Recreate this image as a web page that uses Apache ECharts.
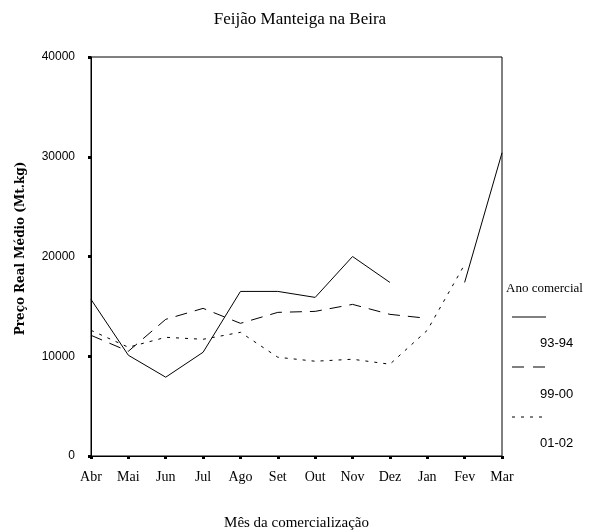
<!DOCTYPE html>
<html>
<head>
<meta charset="utf-8">
<script src="https://cdn.jsdelivr.net/npm/echarts@6/dist/echarts.min.js"></script>
<style>
html,body{margin:0;padding:0;background:#fff;}
#c{width:597px;height:531px;}
</style>
</head>
<body>
<div id="c"></div>
<script>
var months = ['Abr','Mai','Jun','Jul','Ago','Set','Out','Nov','Dez','Jan','Fev','Mar'];
var yTicks = [0, 10000, 20000, 30000, 40000];
var s9394 = [15700, 10100, 7900, 10400, 16500, 16500, 15900, 20000, 17400, null, 17400, 30400];
var s9900 = [12100, 10500, 13700, 14800, 13300, 14400, 14500, 15200, 14200, 13800, null, null];
var s0102 = [12600, 10900, 11900, 11700, 12400, 9900, 9500, 9700, 9200, 12600, 19200, null];
var seriesNames = ['93-94', '99-00', '01-02'];

var serif = '"Liberation Serif","DejaVu Serif",serif';
var wideSerif = '"DejaVu Serif","Liberation Serif",serif';
var sans = '"Liberation Sans","Arial",sans-serif';

var chart = echarts.init(document.getElementById('c'), null, {renderer: 'canvas'});

function mkSeries(name, data, type) {
  return {
    name: name, type: 'line', data: data, symbol: 'none', connectNulls: false,
    lineStyle: {color: '#000', width: 1, type: type}, animation: false
  };
}

var lx = 512, rx = 546;
chart.setOption({
  animation: false,
  title: {
    text: 'Feijão Manteiga na Beira', left: 295, textAlign: 'center', top: 6,
    textStyle: {fontFamily: serif, fontSize: 17, fontWeight: 'normal', color: '#000'}
  },
  grid: {left: 91, right: 95, top: 57, bottom: 75, show: true, borderColor: '#000', borderWidth: 1,
    containLabel: false, outerBoundsMode: 'none'},
  xAxis: {
    type: 'category', data: months, boundaryGap: false,
    name: 'Mês da comercialização', nameLocation: 'middle', nameGap: 60,
    nameTextStyle: {fontFamily: serif, fontSize: 15, color: '#000'},
    axisLine: {lineStyle: {color: '#000', width: 1}},
    axisTick: {show: true, length: 3, lineStyle: {color: '#000', width: 3}, alignWithLabel: true},
    axisLabel: {fontFamily: serif, fontSize: 14, color: '#000', margin: 14},
    splitLine: {show: false}
  },
  yAxis: {
    type: 'value', min: yTicks[0], max: yTicks[yTicks.length - 1], interval: yTicks[1] - yTicks[0],
    name: 'Preço Real Médio (Mt.kg)', nameLocation: 'middle', nameGap: 64, nameRotate: 90,
    nameTextStyle: {fontFamily: wideSerif, fontSize: 12, fontWeight: 'bold', color: '#000',
      padding: [0, 0, 0, 16]},
    axisLine: {show: true, lineStyle: {color: '#000', width: 1}},
    axisTick: {show: true, length: 3, lineStyle: {color: '#000', width: 3}},
    axisLabel: {fontFamily: sans, fontSize: 12, color: '#000', margin: 16,
      padding: [0, 0, 14, 0],
      formatter: function (v) { return String(v); }},
    splitLine: {show: false}
  },
  series: [
    mkSeries(seriesNames[0], s9394, 'solid'),
    mkSeries(seriesNames[1], s9900, [12, 8]),
    mkSeries(seriesNames[2], s0102, [3, 6])
  ],
  graphic: [
    {type: 'text', left: 506, top: 282, style: {text: 'Ano comercial', font: '13px ' + serif, fill: '#000'}},
    {type: 'line', shape: {x1: lx, y1: 317, x2: rx, y2: 317}, style: {stroke: '#000', lineWidth: 1}},
    {type: 'text', left: 540, top: 337, style: {text: seriesNames[0], font: '13px ' + sans, fill: '#000'}},
    {type: 'line', shape: {x1: lx, y1: 367, x2: rx, y2: 367}, style: {stroke: '#000', lineWidth: 1, lineDash: [12, 9]}},
    {type: 'text', left: 540, top: 388, style: {text: seriesNames[1], font: '13px ' + sans, fill: '#000'}},
    {type: 'line', shape: {x1: lx, y1: 417, x2: rx, y2: 417}, style: {stroke: '#000', lineWidth: 1, lineDash: [3, 6]}},
    {type: 'text', left: 540, top: 437, style: {text: seriesNames[2], font: '13px ' + sans, fill: '#000'}}
  ]
});
</script>
</body>
</html>
